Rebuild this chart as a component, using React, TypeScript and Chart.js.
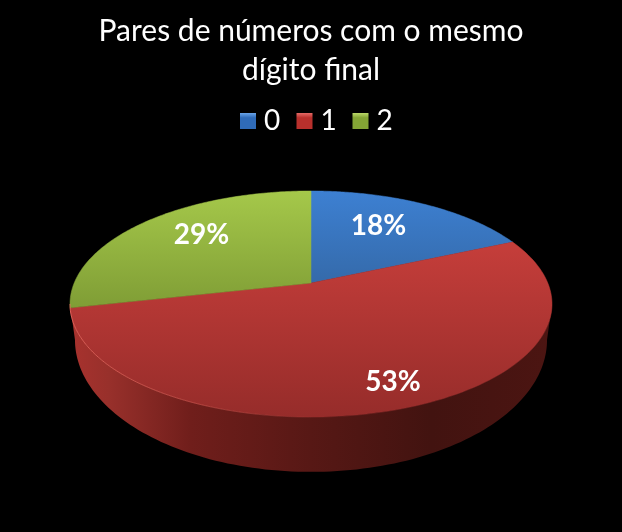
import React, { useEffect, useRef } from 'react';
import Chart from 'chart.js/auto';

const titleLines = ['Pares de números com o mesmo', 'dígito final'];
const categories = ['0', '1', '2'];
const shares = [18.4, 53.1, 28.5];

const sliceColors = ['#3a75bd', '#c0392f', '#93b33f'];
// top and bottom colour of each slice face, over the height of the pie
const faceShades = [
    ['#3d80d2', '#284a70'],
    ['#d3433f', '#962c2a'],
    ['#a5c84a', '#5c7522'],
];
const legendShades = [
    ['#6aa5ea', '#2f6bb8'],
    ['#e66a66', '#b8302c'],
    ['#bcd968', '#84a535'],
];
// where each percent label sits: fraction of the radius, then a pixel nudge
const labelRadius = [0.65, 0.72, 0.84];
const labelNudge = [[-9, -3], [21, 13], [32, 4]];
// legend swatch and digit positions
const legendBoxX = [240, 296.5, 352.5];
const legendTextX = [272, 328.5, 384.5];

// perspective of the pie: a circle seen from above, the near side looks larger
const CX = 311;
const PERSP = -0.186;
const TOP_PLANE = { k: 236.8, a: 56.5, b: 283 };
const BOTTOM_PLANE = { k: 231.9, a: 68.7, b: 315.4 };
const FACE_TOP = 191;
const FACE_BOTTOM = 417;
const RIM_ANGLE = Math.asin(0.186);

type Plane = { k: number; a: number; b: number };

const project = (plane: Plane, angle: number, r = 1): [number, number] => {
    const u = Math.cos(angle) * r;
    const v = Math.sin(angle) * r;
    const d = 1 + PERSP * v;
    return [CX + (plane.k * u) / d, (plane.b + plane.a * v) / d];
};

const traceArc = (ctx: CanvasRenderingContext2D, plane: Plane, from: number, to: number) => {
    const steps = 120;
    for (let i = 0; i <= steps; i++) {
        const [x, y] = project(plane, from + ((to - from) * i) / steps);
        ctx.lineTo(x, y);
    }
};

const pie3d = {
    id: 'pie3d',
    // the arcs keep the angles the pie controller gave them, only the painting differs
    beforeDatasetsDraw(chart: any) {
        const ctx: CanvasRenderingContext2D = chart.ctx;
        const arcs = chart.getDatasetMeta(0).data;

        // side wall: only the near half can be seen, in the slice that holds the front
        const front = Math.PI / 2;
        const wallIndex = arcs.findIndex((a: any) => a.startAngle <= front && a.endAngle >= front);
        if (wallIndex >= 0) {
            const wall = ctx.createLinearGradient(70, 0, 552, 0);
            wall.addColorStop(0, '#a8322e');
            wall.addColorStop(0.08, '#98302b');
            wall.addColorStop(0.25, '#701e1b');
            wall.addColorStop(0.5, '#571815');
            wall.addColorStop(0.75, '#421310');
            wall.addColorStop(1, '#4c1512');
            ctx.beginPath();
            traceArc(ctx, TOP_PLANE, RIM_ANGLE, Math.PI - RIM_ANGLE);
            traceArc(ctx, BOTTOM_PLANE, Math.PI - RIM_ANGLE, RIM_ANGLE);
            ctx.closePath();
            ctx.fillStyle = wall;
            ctx.fill();
        }

        arcs.forEach((arc: any, i: number) => {
            const shade = ctx.createLinearGradient(0, FACE_TOP, 0, FACE_BOTTOM);
            shade.addColorStop(0, faceShades[i][0]);
            shade.addColorStop(1, faceShades[i][1]);
            ctx.beginPath();
            ctx.moveTo(CX, TOP_PLANE.b);
            traceArc(ctx, TOP_PLANE, arc.startAngle, arc.endAngle);
            ctx.closePath();
            ctx.fillStyle = shade;
            ctx.strokeStyle = shade;
            ctx.lineWidth = 0.5;
            ctx.fill();
            ctx.stroke();
        });

        // thin light edge on the near left rim
        const rim = ctx.createLinearGradient(70, 0, 320, 0);
        rim.addColorStop(0, 'rgba(240,110,100,0.8)');
        rim.addColorStop(1, 'rgba(240,110,100,0)');
        ctx.beginPath();
        traceArc(ctx, TOP_PLANE, Math.PI / 2, Math.PI - RIM_ANGLE);
        ctx.strokeStyle = rim;
        ctx.lineWidth = 1;
        ctx.stroke();

        ctx.font = 'bold 28px Lato';
        ctx.fillStyle = '#fff';
        ctx.textAlign = 'center';
        ctx.textBaseline = 'middle';
        arcs.forEach((arc: any, i: number) => {
            const mid = (arc.startAngle + arc.endAngle) / 2;
            const [x, y] = project(TOP_PLANE, mid, labelRadius[i]);
            ctx.fillText(Math.round(shares[i]) + '%', x + labelNudge[i][0], y + labelNudge[i][1]);
        });
        return false;
    },
    // Chart.js ties the legend text gap to the font size, too wide here, so it is drawn by hand
    afterDraw(chart: any) {
        const ctx: CanvasRenderingContext2D = chart.ctx;
        ctx.save();
        ctx.font = '28px Lato';
        ctx.textAlign = 'center';
        ctx.textBaseline = 'middle';
        categories.forEach((text, i) => {
            const g = ctx.createLinearGradient(0, 113, 0, 129);
            g.addColorStop(0, legendShades[i][0]);
            g.addColorStop(0.3, legendShades[i][1]);
            g.addColorStop(1, legendShades[i][1]);
            ctx.fillStyle = g;
            ctx.fillRect(legendBoxX[i], 113, 16, 16);
            ctx.fillStyle = '#fff';
            ctx.fillText(text, legendTextX[i], 121);
        });
        ctx.restore();
    },
};

export default function App() {
    const canvasRef = useRef<HTMLCanvasElement>(null);

    useEffect(() => {
        document.body.style.margin = '0';
        document.body.style.background = '#000';
        const ctx = canvasRef.current?.getContext('2d');
        if (!ctx) return;

        const chart = new Chart(ctx, {
            type: 'pie',
            plugins: [pie3d],
            data: {
                labels: categories,
                datasets: [{ data: shares, backgroundColor: sliceColors, borderWidth: 0 }],
            },
            options: {
                animation: false,
                responsive: false,
                devicePixelRatio: 1,
                layout: { padding: { top: 12 } },
                plugins: {
                    tooltip: { enabled: false },
                    legend: { display: false },
                    title: {
                        display: true,
                        text: titleLines,
                        color: '#fff',
                        font: { family: 'Lato', size: 30, weight: 'normal', lineHeight: 1.3 },
                        padding: { top: 0, bottom: 12 },
                    },
                },
            },
        });

        return () => chart.destroy();
    }, []);

    return (
        <div style={{ width: 622, height: 532, background: '#000' }}>
            <canvas ref={canvasRef} width={622} height={532} style={{ display: 'block' }} />
        </div>
    );
}
